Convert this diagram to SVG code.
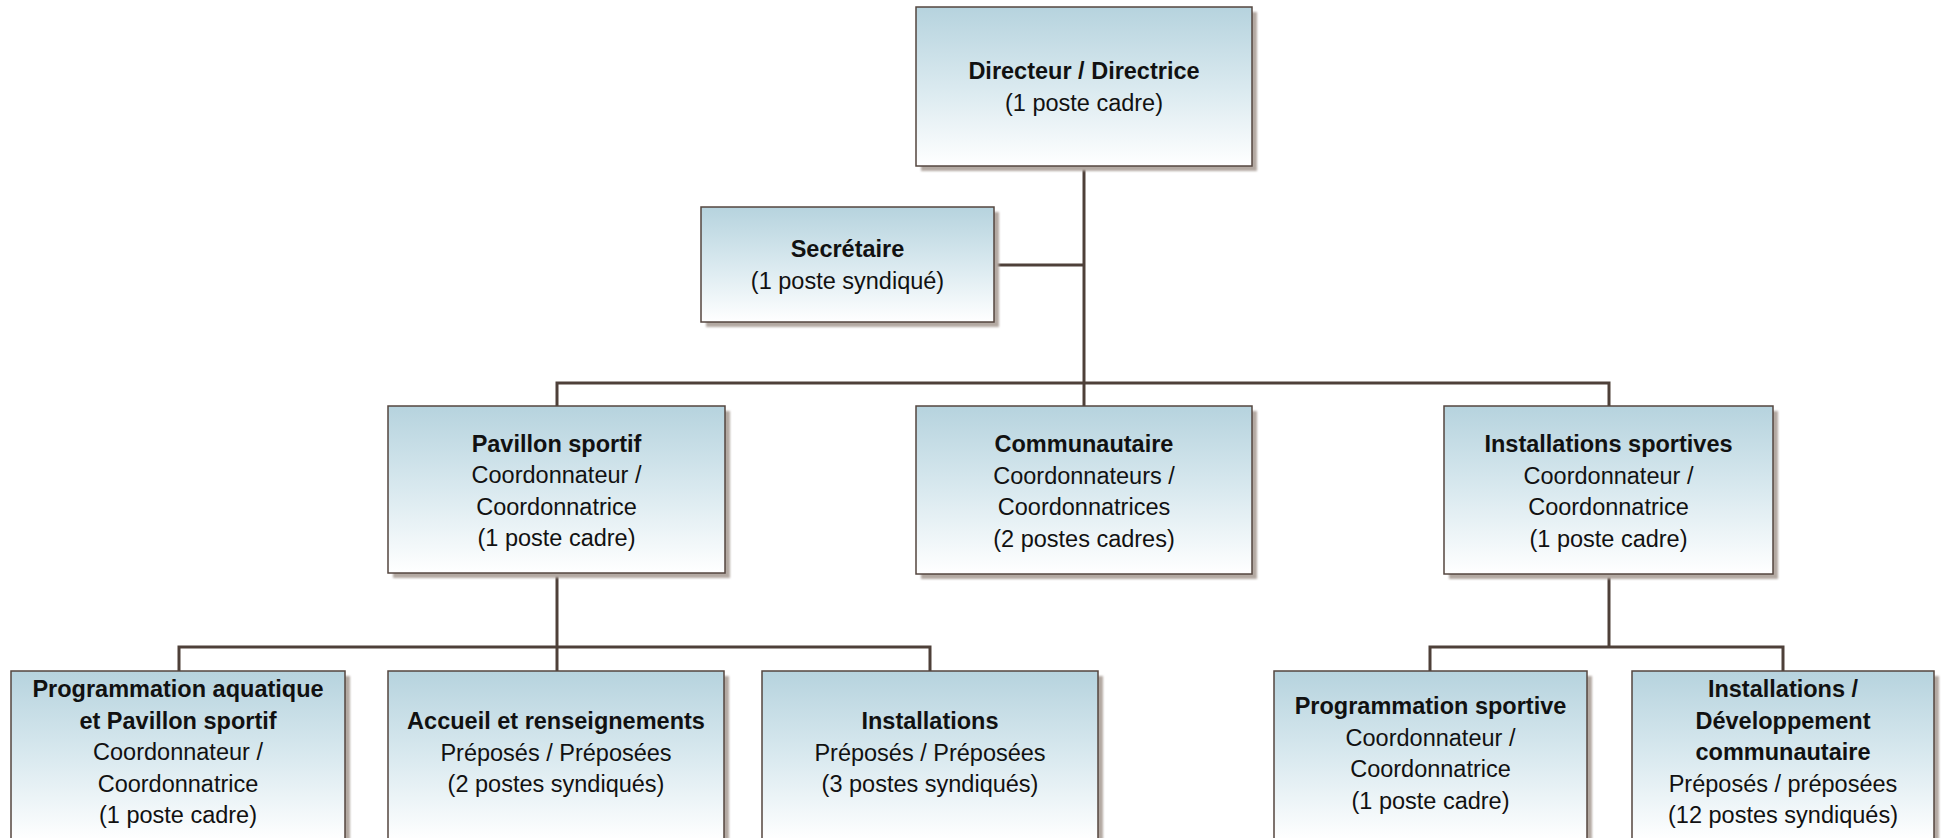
<svg xmlns="http://www.w3.org/2000/svg" width="1947" height="838" viewBox="0 0 1947 838">
  <defs>
    <linearGradient id="g" x1="0" y1="0" x2="0" y2="1">
      <stop offset="0" stop-color="#b6d3de"/>
      <stop offset="0.5" stop-color="#d9e9ef"/>
      <stop offset="1" stop-color="#ffffff"/>
    </linearGradient>
    <filter id="blur" x="-5%" y="-5%" width="110%" height="110%">
      <feGaussianBlur stdDeviation="1"/>
    </filter>
  </defs>
  <style>
    .sh { fill: #b3a9a2; filter: url(#blur); }
    .box { fill: url(#g); stroke: #54463f; stroke-width: 1.5; }
    .t { font-family: "Liberation Sans", Arial, sans-serif; font-size: 23.5px; fill: #111; text-anchor: middle; }
    .b { font-weight: bold; }
    .c { fill: none; stroke: #4e4039; stroke-width: 3; }
  </style>
  <rect width="1947" height="838" fill="#ffffff"/>

  <g id="connectors">
    <path class="c" d="M1084 166 V406"/>
    <path class="c" d="M994 265 H1084"/>
    <path class="c" d="M557 406 V383 H1609 V406"/>
    <path class="c" d="M557 573 V647"/>
    <path class="c" d="M179 671 V647 H930 V671"/>
    <path class="c" d="M557 647 V671"/>
    <path class="c" d="M1609 574 V647"/>
    <path class="c" d="M1430 671 V647 H1783 V671"/>
  </g>

  <g id="directeur">
    <rect class="sh" x="921" y="12" width="336" height="159"/>
    <rect class="box" x="916" y="7" width="336" height="159"/>
    <text class="t b" x="1084" y="79">Directeur / Directrice</text>
    <text class="t" x="1084" y="110.5">(1 poste cadre)</text>
  </g>

  <g id="secretaire">
    <rect class="sh" x="706" y="212" width="293" height="115"/>
    <rect class="box" x="701" y="207" width="293" height="115"/>
    <text class="t b" x="847.5" y="257">Secrétaire</text>
    <text class="t" x="847.5" y="288.5">(1 poste syndiqué)</text>
  </g>

  <g id="pavillon">
    <rect class="sh" x="393" y="411" width="337" height="167"/>
    <rect class="box" x="388" y="406" width="337" height="167"/>
    <text class="t b" x="556.5" y="451.5">Pavillon sportif</text>
    <text class="t" x="556.5" y="483">Coordonnateur /</text>
    <text class="t" x="556.5" y="514.5">Coordonnatrice</text>
    <text class="t" x="556.5" y="546">(1 poste cadre)</text>
  </g>

  <g id="communautaire">
    <rect class="sh" x="921" y="411" width="336" height="168"/>
    <rect class="box" x="916" y="406" width="336" height="168"/>
    <text class="t b" x="1084" y="452">Communautaire</text>
    <text class="t" x="1084" y="483.5">Coordonnateurs /</text>
    <text class="t" x="1084" y="515">Coordonnatrices</text>
    <text class="t" x="1084" y="546.5">(2 postes cadres)</text>
  </g>

  <g id="installations-sportives">
    <rect class="sh" x="1449" y="411" width="329" height="168"/>
    <rect class="box" x="1444" y="406" width="329" height="168"/>
    <text class="t b" x="1608.5" y="452">Installations sportives</text>
    <text class="t" x="1608.5" y="483.5">Coordonnateur /</text>
    <text class="t" x="1608.5" y="515">Coordonnatrice</text>
    <text class="t" x="1608.5" y="546.5">(1 poste cadre)</text>
  </g>

  <g id="programmation-aquatique">
    <rect class="sh" x="16" y="676" width="334" height="170"/>
    <rect class="box" x="11" y="671" width="334" height="170"/>
    <text class="t b" x="178" y="697">Programmation aquatique</text>
    <text class="t b" x="178" y="728.5">et Pavillon sportif</text>
    <text class="t" x="178" y="760">Coordonnateur /</text>
    <text class="t" x="178" y="791.5">Coordonnatrice</text>
    <text class="t" x="178" y="823">(1 poste cadre)</text>
  </g>

  <g id="accueil">
    <rect class="sh" x="393" y="676" width="336" height="170"/>
    <rect class="box" x="388" y="671" width="336" height="170"/>
    <text class="t b" x="556" y="729">Accueil et renseignements</text>
    <text class="t" x="556" y="760.5">Préposés / Préposées</text>
    <text class="t" x="556" y="792">(2 postes syndiqués)</text>
  </g>

  <g id="installations">
    <rect class="sh" x="767" y="676" width="336" height="170"/>
    <rect class="box" x="762" y="671" width="336" height="170"/>
    <text class="t b" x="930" y="729">Installations</text>
    <text class="t" x="930" y="760.5">Préposés / Préposées</text>
    <text class="t" x="930" y="792">(3 postes syndiqués)</text>
  </g>

  <g id="programmation-sportive">
    <rect class="sh" x="1279" y="676" width="313" height="170"/>
    <rect class="box" x="1274" y="671" width="313" height="170"/>
    <text class="t b" x="1430.5" y="714">Programmation sportive</text>
    <text class="t" x="1430.5" y="745.5">Coordonnateur /</text>
    <text class="t" x="1430.5" y="777">Coordonnatrice</text>
    <text class="t" x="1430.5" y="808.5">(1 poste cadre)</text>
  </g>

  <g id="installations-developpement">
    <rect class="sh" x="1637" y="676" width="302" height="170"/>
    <rect class="box" x="1632" y="671" width="302" height="170"/>
    <text class="t b" x="1783" y="697">Installations /</text>
    <text class="t b" x="1783" y="728.5">Développement</text>
    <text class="t b" x="1783" y="760">communautaire</text>
    <text class="t" x="1783" y="791.5">Préposés / préposées</text>
    <text class="t" x="1783" y="823">(12 postes syndiqués)</text>
  </g>
</svg>
